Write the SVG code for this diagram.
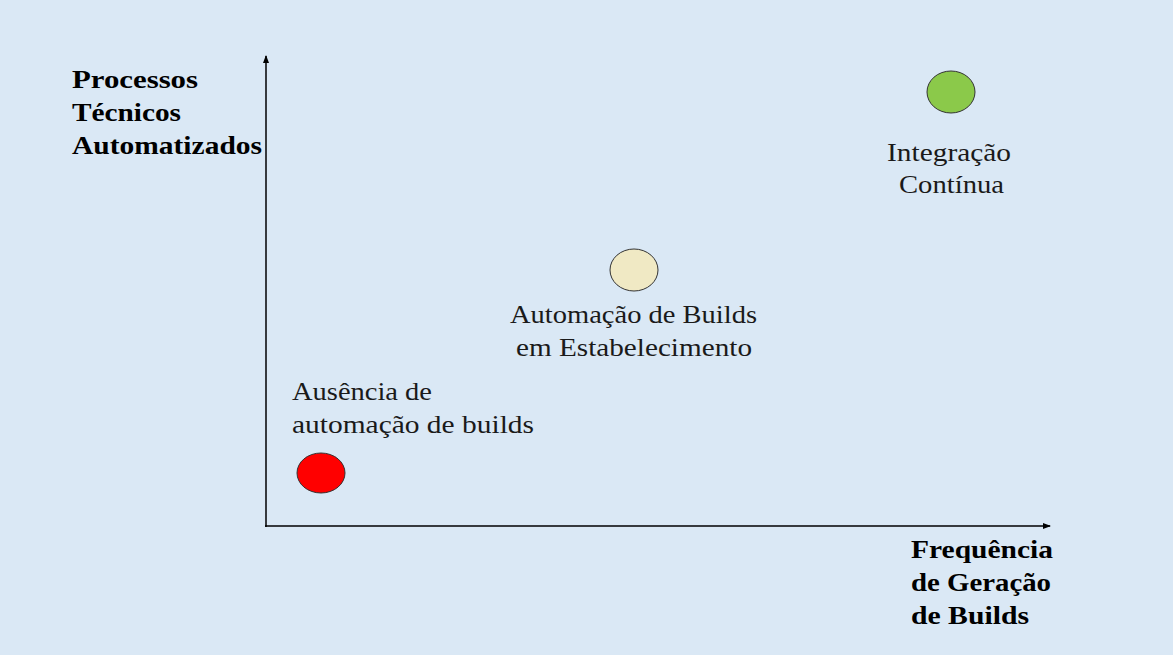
<svg xmlns="http://www.w3.org/2000/svg" width="1173" height="655" viewBox="0 0 1173 655">
<style>
.t{font-family:"Liberation Serif","DejaVu Serif",serif;font-size:26px;fill:#1a1a1a}
.b{font-weight:bold;fill:#000}
.ax{stroke:#000;stroke-width:1.5;fill:none}
.dot{stroke:#333;stroke-width:1}
</style>
<defs>
<marker id="ah" markerWidth="8" markerHeight="8" refX="7" refY="4" orient="auto" markerUnits="userSpaceOnUse">
<path d="M0,1 L8,4 L0,7 Z" fill="#000"/>
</marker>
</defs>
<rect width="1173" height="655" fill="#dae8f5"/>
<g id="connectors">
<line class="ax" x1="266" y1="527" x2="266" y2="56" marker-end="url(#ah)"/>
<line class="ax" x1="265" y1="526" x2="1050" y2="526" marker-end="url(#ah)"/>
</g>
<g id="y-label">
<text class="t b" x="72" y="88" textLength="126" lengthAdjust="spacingAndGlyphs">Processos</text>
<text class="t b" x="72" y="121" textLength="109" lengthAdjust="spacingAndGlyphs">Técnicos</text>
<text class="t b" x="72" y="154" textLength="190" lengthAdjust="spacingAndGlyphs">Automatizados</text>
</g>
<g id="x-label">
<text class="t b" x="911" y="558" textLength="142" lengthAdjust="spacingAndGlyphs">Frequência</text>
<text class="t b" x="911" y="591" textLength="140" lengthAdjust="spacingAndGlyphs">de Geração</text>
<text class="t b" x="911" y="624" textLength="118" lengthAdjust="spacingAndGlyphs">de Builds</text>
</g>
<g id="node-ci">
<ellipse class="dot" cx="951" cy="92" rx="24" ry="21" fill="#8bc94a"/>
<text class="t" x="887" y="161" textLength="124" lengthAdjust="spacingAndGlyphs">Integração</text>
<text class="t" x="899" y="193" textLength="105" lengthAdjust="spacingAndGlyphs">Contínua</text>
</g>
<g id="node-builds">
<ellipse class="dot" cx="634" cy="270" rx="24" ry="21" fill="#f0e9c4"/>
<text class="t" x="510" y="323" textLength="247" lengthAdjust="spacingAndGlyphs">Automação de Builds</text>
<text class="t" x="516" y="356" textLength="236" lengthAdjust="spacingAndGlyphs">em Estabelecimento</text>
</g>
<g id="node-none">
<ellipse class="dot" cx="321" cy="473" rx="24" ry="20" fill="#ff0000"/>
<text class="t" x="292" y="400" textLength="140" lengthAdjust="spacingAndGlyphs">Ausência de</text>
<text class="t" x="292" y="433" textLength="242" lengthAdjust="spacingAndGlyphs">automação de builds</text>
</g>
</svg>
